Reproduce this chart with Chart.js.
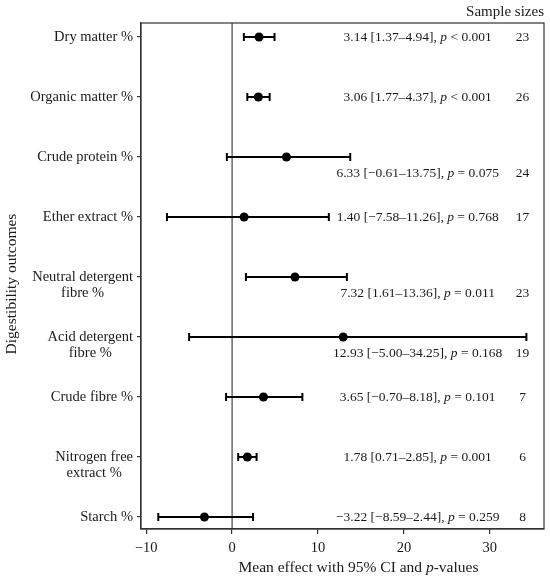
<!DOCTYPE html>
<html>
<head>
<meta charset="utf-8">
<script src="https://cdn.jsdelivr.net/npm/chart.js@4.4.1/dist/chart.umd.min.js"></script>
<style>
    html, body { margin: 0; padding: 0; background: #fff; }
</style>
</head>
<body>
<canvas id="forest" width="550" height="580"></canvas>
<script>
// Données du forest plot
const outcomes = [
    ['Dry matter %'],
    ['Organic matter %'],
    ['Crude protein %'],
    ['Ether extract %'],
    ['Neutral detergent', 'fibre %'],
    ['Acid detergent', 'fibre %'],
    ['Crude fibre %'],
    ['Nitrogen free', 'extract %'],
    ['Starch %']
];
const means = [3.14, 3.06, 6.33, 1.40, 7.32, 12.93, 3.65, 1.78, -3.22];
const lower = [1.37, 1.77, -0.61, -7.58, 1.61, -5.00, -0.70, 0.71, -8.59];
const upper = [4.94, 4.37, 13.75, 11.26, 13.36, 34.25, 8.18, 2.85, 2.44];
const pValues = ['< 0.001', '< 0.001', '= 0.075', '= 0.768', '= 0.011', '= 0.168', '= 0.101', '= 0.001', '= 0.259'];
const sampleSizes = [23, 26, 24, 17, 23, 19, 7, 6, 8];
const xTicks = [-10, 0, 10, 20, 30];

const SERIF = "'Liberation Serif', 'Times New Roman', serif";
const TEXT = '#1a1a1a';

const fmt = (v) => (v < 0 ? '\u2212' : '') + Math.abs(v).toFixed(2);

// texte en plusieurs morceaux (p en italique)
function drawParts(ctx, parts, x, y, size, align) {
    let total = 0;
    parts.forEach(p => {
        ctx.font = (p.italic ? 'italic ' : '') + size + 'px ' + SERIF;
        p.w = ctx.measureText(p.text).width;
        total += p.w;
    });
    let cx = align === 'center' ? x - total / 2 : x;
    ctx.textAlign = 'left';
    ctx.textBaseline = 'middle';
    ctx.fillStyle = TEXT;
    parts.forEach(p => {
        ctx.font = (p.italic ? 'italic ' : '') + size + 'px ' + SERIF;
        ctx.fillText(p.text, cx, y);
        cx += p.w;
    });
}

const forestPlugin = {
    id: 'forestExtras',
    beforeDatasetsDraw(chart) {
        const { ctx, chartArea, scales } = chart;
        const x0 = scales.x.getPixelForValue(0);
        ctx.save();
        ctx.strokeStyle = '#222';
        ctx.lineWidth = 1;
        ctx.beginPath();
        ctx.moveTo(x0, chartArea.top);
        ctx.lineTo(x0, chartArea.bottom);
        ctx.stroke();
        ctx.restore();
    },
    afterDatasetsDraw(chart) {
        const { ctx, chartArea, scales } = chart;
        ctx.save();
        // cadre
        ctx.strokeStyle = '#333';
        ctx.lineWidth = 1.2;
        ctx.strokeRect(chartArea.left, chartArea.top, chartArea.right - chartArea.left, chartArea.bottom - chartArea.top);

        // étiquettes de l'axe y : première ligne au niveau du tick, lignes centrées entre elles
        ctx.font = '14.5px ' + SERIF;
        ctx.fillStyle = TEXT;
        ctx.textAlign = 'center';
        ctx.textBaseline = 'middle';
        outcomes.forEach((lines, i) => {
            const y = scales.y.getPixelForValue(i);
            const w = Math.max(...lines.map(l => ctx.measureText(l).width));
            const cx = chartArea.left - 8 - w / 2;
            lines.forEach((l, k) => ctx.fillText(l, cx, y + k * 16.5));
        });

        outcomes.forEach((_, i) => {
            // décaler le texte si la barre le recouvre
            const shift = upper[i] > 12 ? 0.27 : 0;
            const y = scales.y.getPixelForValue(i + shift);
            drawParts(ctx, [
                { text: fmt(means[i]) + ' [' + fmt(lower[i]) + '\u2013' + fmt(upper[i]) + '], ' },
                { text: 'p', italic: true },
                { text: ' ' + pValues[i] }
            ], scales.x.getPixelForValue(21.6), y, 13.5, 'center');
            drawParts(ctx, [{ text: String(sampleSizes[i]) }], scales.x.getPixelForValue(33.8), y, 13.5, 'center');
        });

        ctx.font = '15px ' + SERIF;
        ctx.fillStyle = TEXT;
        ctx.textAlign = 'right';
        ctx.textBaseline = 'middle';
        ctx.fillText('Sample sizes', chartArea.right, 12);

        drawParts(ctx, [
            { text: 'Mean effect with 95% CI and ' },
            { text: 'p', italic: true },
            { text: '-values' }
        ], (chartArea.left + chartArea.right) / 2 + 16, 568, 15.5, 'center');

        // titre de l'axe y
        ctx.translate(12, (chartArea.top + chartArea.bottom) / 2 + 8);
        ctx.rotate(-Math.PI / 2);
        ctx.font = '15.5px ' + SERIF;
        ctx.textAlign = 'center';
        ctx.fillText('Digestibility outcomes', 0, 0);
        ctx.restore();
    }
};

const ciDatasets = outcomes.map((_, i) => ({
    type: 'line',
    data: [{ x: lower[i], y: i }, { x: upper[i], y: i }],
    borderColor: '#000',
    borderWidth: 2,
    pointRadius: 0,
    fill: false
}));

const capData = [];
outcomes.forEach((_, i) => {
    capData.push({ x: lower[i], y: i });
    capData.push({ x: upper[i], y: i });
});

new Chart(document.getElementById('forest'), {
    type: 'scatter',
    data: {
        datasets: [
            ...ciDatasets,
            {
                data: capData,
                pointStyle: 'line',
                rotation: 90,
                radius: 4,
                borderColor: '#000',
                borderWidth: 2
            },
            {
                data: means.map((m, i) => ({ x: m, y: i })),
                pointStyle: 'circle',
                radius: 4.5,
                backgroundColor: '#000',
                borderColor: '#000',
                borderWidth: 0
            }
        ]
    },
    options: {
        responsive: false,
        animation: false,
        events: [],
        layout: { padding: { top: 23, right: 6, left: 0, bottom: 0 } },
        plugins: {
            legend: { display: false },
            tooltip: { enabled: false }
        },
        scales: {
            x: {
                type: 'linear',
                min: -10.6,
                max: 36.3,
                afterBuildTicks: (scale) => { scale.ticks = xTicks.map(v => ({ value: v })); },
                afterFit: (scale) => { scale.height = 51; },
                ticks: {
                    color: TEXT,
                    font: { family: SERIF, size: 14.5 },
                    padding: 5,
                    maxRotation: 0,
                    callback: (v) => (v < 0 ? '\u2212' + Math.abs(v) : String(v))
                },
                grid: { drawOnChartArea: false, drawTicks: true, tickLength: 5, color: '#333', lineWidth: 1.2 },
                border: { color: '#333', width: 1.2 }
            },
            y: {
                type: 'linear',
                reverse: true,
                min: -0.233,
                max: 8.2,
                afterBuildTicks: (scale) => { scale.ticks = outcomes.map((_, i) => ({ value: i })); },
                afterFit: (scale) => { scale.width = 141; },
                ticks: { display: false },
                grid: { drawOnChartArea: false, drawTicks: true, tickLength: 4, color: '#333', lineWidth: 1.2 },
                border: { color: '#333', width: 1.2 }
            }
        }
    },
    plugins: [forestPlugin]
});
</script>
</body>
</html>
